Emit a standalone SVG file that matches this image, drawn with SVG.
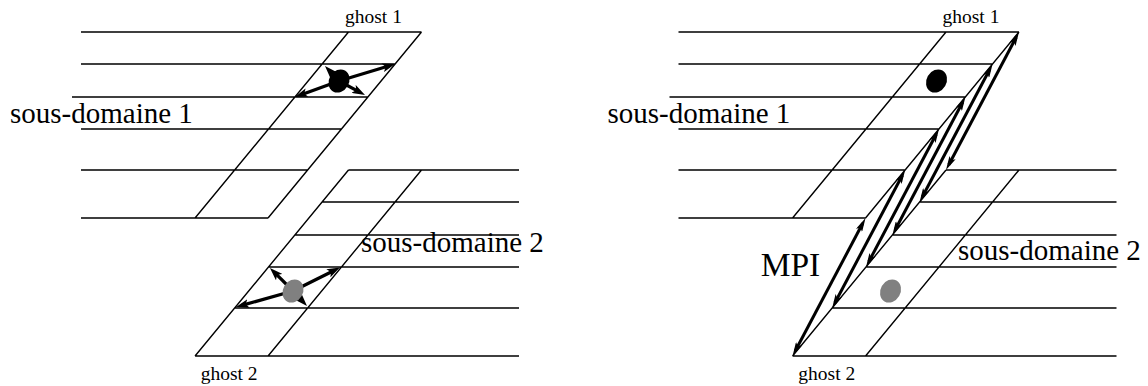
<svg xmlns="http://www.w3.org/2000/svg" width="1148" height="386" viewBox="0 0 1148 386">
<style>
.g{fill:none;stroke:#000;stroke-width:1.4}
.ar{fill:none;stroke:#000;stroke-width:3.2;marker-end:url(#ah)}
.mpi{fill:none;stroke:#000;stroke-width:3;marker-start:url(#mh);marker-end:url(#mh)}
.t{font-family:"Liberation Serif","Times New Roman",serif;fill:#000}
.big{font-size:29px}
.sm{font-size:19.5px}
.mp{font-size:33.5px}
.blk{fill:#000}
.gry{fill:#808080}
</style>
<defs>
<marker id="ah" markerUnits="userSpaceOnUse" markerWidth="13" markerHeight="9" viewBox="0 0 13 9" refX="7" refY="4.5" orient="auto-start-reverse">
<path d="M0,0 L13,4.5 L0,9 L3,4.5 z" fill="#000"/>
</marker>
<marker id="mh" markerUnits="userSpaceOnUse" markerWidth="14" markerHeight="7" viewBox="0 0 14 7" refX="8" refY="3.5" orient="auto-start-reverse">
<path d="M0,0 L14,3.5 L0,7 L3,3.5 z" fill="#000"/>
</marker>
</defs>

<g id="left-subdomain1">
<path class="g" d="M81,32 H421.5 M81,64 H395.1 M72,97 H367.9 M81,129 H341.5 M81,170 H307.65 M81,218 H268.05 M421.5,32 L268.05,218 M348.5,32 L195.05,218"/>
<text class="t big" x="10" y="123.3">sous-domaine 1</text>
<text class="t sm" x="345" y="23.3">ghost 1</text>
</g>
<g id="left-subdomain2">
<path class="g" d="M348.5,170 H519 M322.1,202 H519 M294.9,235 H519 M268.5,267 H519 M234.65,308 H519 M195.05,356 H519 M348.5,170 L195.05,356 M421.5,170 L268.05,356"/>
<text class="t big" x="361" y="252">sous-domaine 2</text>
<text class="t sm" x="200.7" y="380">ghost 2</text>
</g>

<g id="right-subdomain1">
<path class="g" transform="translate(597.5,0)" d="M81,32 H421.5 M81,64 H395.1 M72,97 H367.9 M81,129 H341.5 M81,170 H307.65 M81,218 H268.05 M421.5,32 L268.05,218 M348.5,32 L195.05,218"/>
<text class="t big" x="607.5" y="123.3">sous-domaine 1</text>
<text class="t sm" x="942.5" y="23.3">ghost 1</text>
</g>
<g id="right-subdomain2">
<path class="g" transform="translate(597.5,0)" d="M348.5,170 H519 M322.1,202 H519 M294.9,235 H519 M268.5,267 H519 M234.65,308 H519 M195.05,356 H519 M348.5,170 L195.05,356 M421.5,170 L268.05,356"/>
<text class="t big" x="958" y="260">sous-domaine 2</text>
<text class="t sm" x="798.3" y="380">ghost 2</text>
</g>

<g id="connectors">
<path class="ar" d="M339,81 L389.4,65.7"/>
<path class="ar" d="M339,81 L300.5,95"/>
<path class="ar" d="M339,81 L329.1,70.4"/>
<path class="ar" d="M339,81 L359.7,92.2"/>
<path class="ar" d="M293,291 L334.6,270.2"/>
<path class="ar" d="M293,291 L241.8,305.4"/>
<path class="ar" d="M293,291 L274.2,272.2"/>
<path class="ar" d="M293,291 L302.9,301.6"/>
<path class="mpi" d="M1016.19,37.3 L948.81,164.7"/>
<path class="mpi" d="M989.79,69.3 L922.41,196.7"/>
<path class="mpi" d="M962.59,102.3 L895.21,229.7"/>
<path class="mpi" d="M936.19,134.3 L868.81,261.7"/>
<path class="mpi" d="M902.34,175.3 L834.96,302.7"/>
<path class="mpi" d="M862.74,223.3 L795.36,350.7"/>
<text class="t mp" x="760.7" y="276">MPI</text>
</g>

<g id="left-point1"><ellipse class="blk" cx="339" cy="81" rx="12" ry="10" transform="rotate(-60 339 81)"/></g>
<g id="left-point2"><ellipse class="gry" cx="293" cy="291" rx="12" ry="10" transform="rotate(-60 293 291)"/></g>
<g id="right-point1"><ellipse class="blk" cx="936.5" cy="81" rx="12" ry="10" transform="rotate(-60 936.5 81)"/></g>
<g id="right-point2"><ellipse class="gry" cx="890.5" cy="291" rx="12" ry="10" transform="rotate(-60 890.5 291)"/></g>
</svg>
